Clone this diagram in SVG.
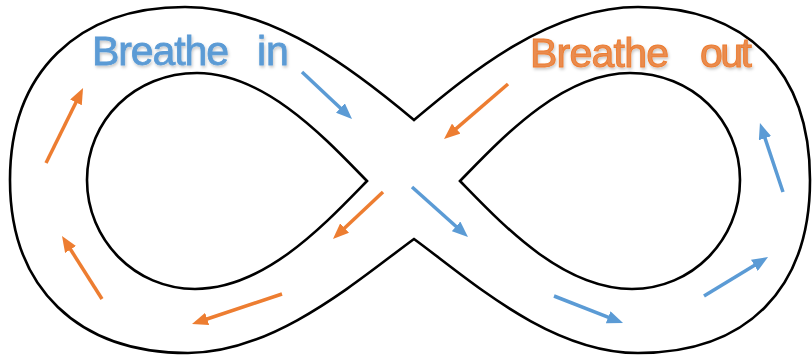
<svg xmlns="http://www.w3.org/2000/svg" width="812" height="360" viewBox="0 0 812 360">
<style>
.track{fill:none;stroke:#000;stroke-width:2.6;stroke-linejoin:miter;stroke-miterlimit:10}
.blue{stroke:#5B9BD5;stroke-width:3.5;fill:none;marker-end:url(#hb)}
.orange{stroke:#ED7D31;stroke-width:3.5;fill:none;marker-end:url(#ho)}
.lbl{font-family:"Liberation Sans",Arial,Helvetica,sans-serif;font-size:41px}
</style>
<defs>
<marker id="hb" viewBox="0 0 16 13" refX="8" refY="6.5" markerWidth="16" markerHeight="13" markerUnits="userSpaceOnUse" orient="auto"><path d="M0,0 L16,6.5 L0,13 Z" fill="#5B9BD5"/></marker>
<marker id="ho" viewBox="0 0 16 13" refX="8" refY="6.5" markerWidth="16" markerHeight="13" markerUnits="userSpaceOnUse" orient="auto"><path d="M0,0 L16,6.5 L0,13 Z" fill="#ED7D31"/></marker>
<filter id="sh" x="-10%" y="-30%" width="120%" height="160%"><feDropShadow dx="1" dy="2" stdDeviation="1.5" flood-color="#000" flood-opacity="0.22"/></filter>
</defs>
<rect width="812" height="360" fill="#fff"/>
<g id="track">
<path class="track" d="M414,120 C470,73 550,7 638,7 C748,7 810,72 810,180 C810,288 748,353 638,353 C550,353 470,280 414,239 C358,280 275,353 188,353 C78,353 10,288 10,180 C10,72 78,7 185,7 C275,7 358,73 414,120 Z"/>
<path class="track" d="M367,181 C325,138 265,73 197,73 C135,73 87,120 87,180 C87,240 135,289 195,289 C265,289 325,224 367,181 Z"/>
<path class="track" d="M460,181 C502,138 562,73 630,73 C692,73 740,120 740,180 C740,240 692,289 632,289 C562,289 502,224 460,181 Z"/>
</g>
<g id="label-in" filter="url(#sh)">
<text class="lbl" y="65" fill="#5B9BD5" stroke="#5B9BD5" stroke-width="0.8"><tspan x="92" textLength="137">Breathe</tspan> <tspan x="257">in</tspan></text>
</g>
<g id="label-out" filter="url(#sh)">
<text class="lbl" y="67" font-size="40" fill="#E98C50" stroke="#ED7D31" stroke-width="1"><tspan x="530" textLength="139">Breathe</tspan> <tspan x="700" textLength="52">out</tspan></text>
</g>
<g id="connectors">
<path class="blue" d="M302,72 L346.2,113.5"/>
<path class="blue" d="M412,187 L462,231.7"/>
<path class="blue" d="M554,296 L615.6,320.1"/>
<path class="blue" d="M704,296 L761.2,261.2"/>
<path class="blue" d="M783,192 L762.5,130.6"/>
<path class="orange" d="M508,84 L450.1,133.8"/>
<path class="orange" d="M383,192 L338.8,233.5"/>
<path class="orange" d="M282,294 L199.6,321.5"/>
<path class="orange" d="M102,299 L66.3,242.8"/>
<path class="orange" d="M46,163 L79.5,95.2"/>
</g>
</svg>
